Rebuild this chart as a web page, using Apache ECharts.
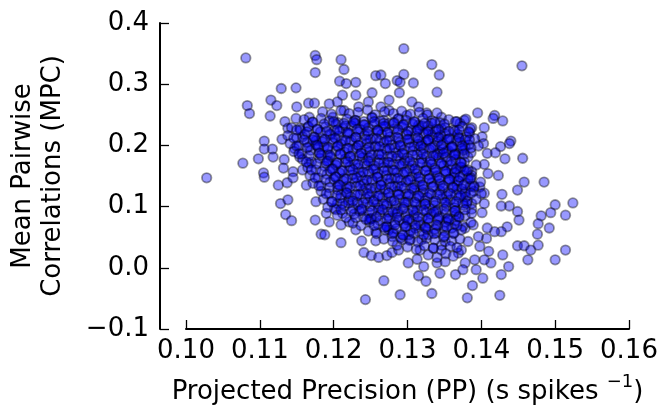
<!DOCTYPE html>
<html><head><meta charset="utf-8">
<script src="https://cdn.jsdelivr.net/npm/echarts@6/dist/echarts.min.js"></script>
<style>html,body{margin:0;padding:0;background:#fff}#c{width:661px;height:410px}</style>
</head><body><div id="c"></div>
<script>
const xTicks = [0.10, 0.11, 0.12, 0.13, 0.14, 0.15, 0.16];
const yTicks = [-0.1, 0.0, 0.1, 0.2, 0.3, 0.4];
const xTitle = 'Projected Precision (PP) (s spikes ';
const xTitleSup = '\u22121';
const yTitle = ['Mean Pairwise', 'Correlations (MPC)'];

// sparse points around the cloud
const outerPoints = [
[0.1081,0.343],[0.1175,0.347],[0.1177,0.340],[0.1175,0.319],[0.1129,0.293],[0.1149,0.294],[0.1115,0.274],[0.1123,0.265],
[0.1083,0.265],[0.1086,0.252],[0.1114,0.248],[0.1150,0.263],[0.1166,0.269],[0.1174,0.269],[0.1106,0.207],[0.1130,0.210],
[0.1106,0.194],[0.1117,0.194],[0.1118,0.181],[0.1098,0.178],[0.1077,0.171],[0.1133,0.177],[0.1028,0.147],[0.1134,0.239],
[0.1138,0.228],[0.1149,0.244],[0.1154,0.228],[0.1167,0.246],[0.1165,0.230],[0.1147,0.195],[0.1154,0.181],[0.1167,0.198],
[0.1176,0.208],[0.1158,0.214],[0.1145,0.157],[0.1158,0.160],[0.1105,0.155],[0.1132,0.163],[0.1167,0.171],
[0.1295,0.358],[0.1210,0.340],[0.1214,0.324],[0.1333,0.332],[0.1343,0.315],[0.1257,0.314],[0.1264,0.315],[0.1295,0.316],
[0.1270,0.301],[0.1230,0.303],[0.1208,0.305],[0.1217,0.301],[0.1286,0.306],[0.1290,0.303],[0.1308,0.302],[0.1289,0.286],
[0.1340,0.287],[0.1252,0.286],[0.1212,0.282],[0.1230,0.282],[0.1275,0.274],[0.1306,0.271],[0.1315,0.263],[0.1326,0.253],
[0.1346,0.246],[0.1247,0.271],[0.1264,0.263],[0.1205,0.271],[0.1194,0.268],[0.1234,0.263],[0.1214,0.257],[0.1275,0.257],
[0.1299,0.249],[0.1315,0.233],[0.1328,0.225],[0.1346,0.228],[0.1268,0.241],[0.1252,0.246],[0.1230,0.241],[0.1199,0.246],
[0.1288,0.244],[0.1333,0.217],[0.1346,0.211],[0.1319,0.203],[0.1355,0.192],[0.1344,0.189],
[0.1455,0.330],[0.1395,0.253],[0.1418,0.249],[0.1416,0.244],[0.1429,0.240],[0.1377,0.241],[0.1371,0.236],[0.1387,0.229],
[0.1404,0.229],[0.1384,0.220],[0.1401,0.214],[0.1403,0.203],[0.1396,0.199],[0.1440,0.207],[0.1438,0.203],[0.1426,0.198],
[0.1408,0.187],[0.1419,0.188],[0.1432,0.178],[0.1456,0.179],[0.1404,0.169],[0.1423,0.151],[0.1409,0.154],[0.1369,0.214],
[0.1378,0.198],[0.1369,0.187],[0.1382,0.181],[0.1393,0.168],[0.1373,0.165],[0.1387,0.157],[0.1364,0.157],
[0.1106,0.148],[0.1125,0.135],[0.1137,0.139],[0.1128,0.105],[0.1138,0.111],[0.1135,0.087],[0.1143,0.077],[0.1175,0.078],
[0.1183,0.055],[0.1163,0.135],[0.1176,0.108],[0.1145,0.147],
[0.1194,0.075],[0.1188,0.054],[0.1210,0.041],[0.1238,0.044],[0.1257,0.044],[0.1241,0.025],[0.1251,0.020],[0.1261,0.017],
[0.1272,0.020],[0.1279,0.025],[0.1288,0.029],[0.1286,0.037],[0.1301,0.008],[0.1313,0.014],[0.1322,0.002],[0.1315,-0.013],
[0.1325,-0.022],[0.1268,-0.021],[0.1290,-0.044],[0.1243,-0.052],[0.1333,-0.042],[0.1340,0.008],[0.1344,-0.009],[0.1351,0.010],
[0.1335,0.032],[0.1346,0.037],[0.1317,0.029],[0.1304,0.046],[0.1319,0.046],[0.1293,0.046],[0.1279,0.051],[0.1257,0.059],
[0.1230,0.062],[0.1212,0.089],[0.1201,0.097],[0.1205,0.105],[0.1248,0.078],[0.1221,0.075],[0.1275,0.062],[0.1302,0.054],
[0.1328,0.054],[0.1351,0.043],[0.1210,0.070],[0.1190,0.089],
[0.1458,0.140],[0.1485,0.140],[0.1449,0.127],[0.1428,0.120],[0.1524,0.106],[0.1500,0.103],[0.1514,0.086],[0.1494,0.090],
[0.1481,0.085],[0.1449,0.092],[0.1451,0.078],[0.1438,0.101],[0.1427,0.101],[0.1401,0.090],[0.1477,0.072],[0.1492,0.065],
[0.1476,0.055],[0.1435,0.067],[0.1427,0.059],[0.1418,0.059],[0.1408,0.065],[0.1407,0.048],[0.1449,0.036],[0.1458,0.036],
[0.1467,0.029],[0.1477,0.037],[0.1514,0.029],[0.1463,0.013],[0.1500,0.013],[0.1429,0.021],[0.1437,0.002],[0.1427,-0.011],
[0.1410,0.027],[0.1398,0.035],[0.1413,0.008],[0.1402,-0.017],[0.1388,-0.029],[0.1381,-0.049],[0.1425,-0.045],[0.1365,-0.011],
[0.1369,0.024],[0.1378,0.008],[0.1391,0.013],[0.1404,0.013],[0.1393,-0.003],[0.1375,-0.003],[0.1382,0.043],[0.1373,0.029],
[0.1396,0.051],[0.1378,0.065],[0.1389,0.070],[0.1369,0.084],[0.1387,0.105],[0.1404,0.105],[0.1404,0.122],[0.1398,0.132],
[0.1378,0.124],[0.1369,0.143],[0.1387,0.151]
];

// dense core of the cloud
const corePoints = [
[0.1185,0.255],[0.1197,0.251],[0.1210,0.257],[0.1221,0.252],[0.1233,0.254],[0.1246,0.258],[0.1256,0.250],[0.1269,0.255],[0.1281,0.252],[0.1292,0.256],[0.1304,0.251],[0.1316,0.254],[0.1327,0.250],[0.1340,0.253],
[0.1160,0.242],[0.1171,0.238],[0.1183,0.244],[0.1194,0.240],[0.1206,0.237],[0.1218,0.243],[0.1229,0.241],[0.1241,0.239],[0.1252,0.245],[0.1263,0.240],[0.1275,0.236],[0.1287,0.243],[0.1298,0.241],[0.1310,0.238],[0.1321,0.244],[0.1333,0.240],[0.1344,0.237],[0.1356,0.242],[0.1367,0.239],[0.1379,0.243],
[0.1143,0.229],[0.1155,0.225],[0.1166,0.231],[0.1178,0.227],[0.1189,0.230],[0.1201,0.224],[0.1212,0.228],[0.1224,0.232],[0.1236,0.226],[0.1247,0.229],[0.1259,0.225],[0.1270,0.231],[0.1282,0.227],[0.1293,0.230],[0.1305,0.224],[0.1316,0.228],[0.1328,0.232],[0.1339,0.226],[0.1351,0.229],[0.1362,0.225],[0.1374,0.231],[0.1385,0.227],
[0.1138,0.216],[0.1150,0.212],[0.1161,0.218],[0.1173,0.214],[0.1184,0.211],[0.1196,0.217],[0.1207,0.215],[0.1219,0.219],[0.1230,0.213],[0.1242,0.216],[0.1253,0.212],[0.1265,0.218],[0.1276,0.214],[0.1288,0.211],[0.1299,0.217],[0.1311,0.215],[0.1322,0.219],[0.1334,0.213],[0.1345,0.216],[0.1357,0.212],[0.1368,0.218],[0.1380,0.214],[0.1391,0.211],
[0.1141,0.203],[0.1153,0.199],[0.1164,0.205],[0.1176,0.201],[0.1187,0.198],[0.1199,0.204],[0.1210,0.202],[0.1222,0.206],[0.1233,0.200],[0.1245,0.203],[0.1256,0.199],[0.1268,0.205],[0.1279,0.201],[0.1291,0.198],[0.1302,0.204],[0.1314,0.202],[0.1325,0.206],[0.1337,0.200],[0.1348,0.203],[0.1360,0.199],[0.1371,0.205],[0.1383,0.201],
[0.1146,0.190],[0.1157,0.186],[0.1169,0.192],[0.1180,0.188],[0.1192,0.185],[0.1203,0.191],[0.1215,0.189],[0.1226,0.193],[0.1238,0.187],[0.1249,0.190],[0.1261,0.186],[0.1272,0.192],[0.1284,0.188],[0.1295,0.185],[0.1307,0.191],[0.1318,0.189],[0.1330,0.193],[0.1341,0.187],[0.1353,0.190],[0.1364,0.186],[0.1376,0.192],[0.1386,0.188],
[0.1158,0.177],[0.1170,0.173],[0.1181,0.179],[0.1193,0.175],[0.1204,0.172],[0.1216,0.178],[0.1227,0.176],[0.1239,0.180],[0.1250,0.174],[0.1262,0.177],[0.1273,0.173],[0.1285,0.179],[0.1296,0.175],[0.1308,0.172],[0.1319,0.178],[0.1331,0.176],[0.1342,0.180],[0.1354,0.174],[0.1365,0.177],[0.1377,0.173],
[0.1165,0.164],[0.1176,0.160],[0.1188,0.166],[0.1199,0.162],[0.1211,0.159],[0.1222,0.165],[0.1234,0.163],[0.1245,0.167],[0.1257,0.161],[0.1268,0.164],[0.1280,0.160],[0.1291,0.166],[0.1303,0.162],[0.1314,0.159],[0.1326,0.165],[0.1337,0.163],[0.1349,0.167],[0.1360,0.161],[0.1372,0.164],[0.1382,0.160],
[0.1168,0.151],[0.1179,0.147],[0.1191,0.153],[0.1202,0.149],[0.1214,0.146],[0.1225,0.152],[0.1237,0.150],[0.1248,0.154],[0.1260,0.148],[0.1271,0.151],[0.1283,0.147],[0.1294,0.153],[0.1306,0.149],[0.1317,0.146],[0.1329,0.152],[0.1340,0.150],[0.1352,0.154],[0.1363,0.148],[0.1375,0.151],[0.1386,0.147],
[0.1172,0.138],[0.1183,0.134],[0.1195,0.140],[0.1206,0.136],[0.1218,0.133],[0.1229,0.139],[0.1241,0.137],[0.1252,0.141],[0.1264,0.135],[0.1275,0.138],[0.1287,0.134],[0.1298,0.140],[0.1310,0.136],[0.1321,0.133],[0.1333,0.139],[0.1344,0.137],[0.1356,0.141],[0.1367,0.135],[0.1379,0.138],[0.1390,0.134],[0.1399,0.140],
[0.1183,0.125],[0.1194,0.121],[0.1206,0.127],[0.1217,0.123],[0.1229,0.120],[0.1240,0.126],[0.1252,0.124],[0.1263,0.128],[0.1275,0.122],[0.1286,0.125],[0.1298,0.121],[0.1309,0.127],[0.1321,0.123],[0.1332,0.120],[0.1344,0.126],[0.1355,0.124],[0.1367,0.128],[0.1378,0.122],[0.1390,0.125],[0.1400,0.121],
[0.1186,0.112],[0.1197,0.108],[0.1209,0.114],[0.1220,0.110],[0.1232,0.107],[0.1243,0.113],[0.1255,0.111],[0.1266,0.115],[0.1278,0.109],[0.1289,0.112],[0.1301,0.108],[0.1312,0.114],[0.1324,0.110],[0.1335,0.107],[0.1347,0.113],[0.1358,0.111],[0.1370,0.115],[0.1381,0.109],[0.1393,0.112],
[0.1192,0.099],[0.1203,0.095],[0.1215,0.101],[0.1226,0.097],[0.1238,0.094],[0.1249,0.100],[0.1261,0.098],[0.1272,0.102],[0.1284,0.096],[0.1295,0.099],[0.1307,0.095],[0.1318,0.101],[0.1330,0.097],[0.1341,0.094],[0.1353,0.100],[0.1364,0.098],[0.1376,0.102],[0.1387,0.096],
[0.1205,0.086],[0.1217,0.082],[0.1228,0.088],[0.1240,0.084],[0.1251,0.081],[0.1263,0.087],[0.1274,0.085],[0.1286,0.089],[0.1297,0.083],[0.1309,0.086],[0.1320,0.082],[0.1332,0.088],[0.1343,0.084],[0.1355,0.081],[0.1366,0.087],[0.1378,0.085],[0.1387,0.089],
[0.1226,0.073],[0.1237,0.069],[0.1249,0.075],[0.1260,0.071],[0.1272,0.068],[0.1283,0.074],[0.1295,0.072],[0.1306,0.076],[0.1318,0.070],[0.1329,0.073],[0.1341,0.069],[0.1352,0.075],[0.1364,0.071],[0.1375,0.068],[0.1386,0.074],
[0.1247,0.060],[0.1258,0.056],[0.1270,0.062],[0.1281,0.058],[0.1293,0.055],[0.1304,0.061],[0.1316,0.059],[0.1327,0.063],[0.1339,0.057],[0.1350,0.060],[0.1362,0.056],[0.1373,0.062],
[0.1268,0.047],[0.1280,0.043],[0.1291,0.049],[0.1303,0.045],[0.1314,0.042],[0.1326,0.048],[0.1337,0.046],[0.1349,0.050],[0.1360,0.044],[0.1371,0.047],
[0.1300,0.034],[0.1312,0.030],[0.1323,0.036],[0.1335,0.032],[0.1346,0.029],[0.1358,0.035],[0.1367,0.033],
[0.1328,0.021],[0.1340,0.017],[0.1352,0.023],[0.1362,0.019]
];

// second, overlapping layer in the darkest middle
const innerPoints = [
[0.1203,0.235],[0.1216,0.232],[0.1229,0.236],[0.1242,0.233],[0.1255,0.234],[0.1268,0.231],[0.1281,0.236],[0.1294,0.233],[0.1307,0.235],[0.1320,0.232],[0.1333,0.236],
[0.1182,0.222],[0.1195,0.219],[0.1208,0.223],[0.1221,0.220],[0.1234,0.222],[0.1247,0.218],[0.1260,0.223],[0.1273,0.220],[0.1286,0.221],[0.1299,0.218],[0.1312,0.223],[0.1325,0.220],[0.1338,0.222],[0.1351,0.219],[0.1364,0.223],
[0.1172,0.209],[0.1185,0.206],[0.1198,0.210],[0.1211,0.207],[0.1224,0.209],[0.1237,0.205],[0.1250,0.210],[0.1263,0.207],[0.1276,0.208],[0.1289,0.205],[0.1302,0.210],[0.1315,0.207],[0.1328,0.209],[0.1341,0.206],[0.1354,0.210],[0.1367,0.207],[0.1378,0.209],
[0.1179,0.197],[0.1192,0.194],[0.1205,0.198],[0.1218,0.195],[0.1231,0.196],[0.1244,0.193],[0.1257,0.198],[0.1270,0.195],[0.1283,0.196],[0.1296,0.193],[0.1309,0.198],[0.1322,0.195],[0.1335,0.197],[0.1348,0.194],[0.1361,0.198],[0.1374,0.195],
[0.1183,0.184],[0.1196,0.181],[0.1209,0.185],[0.1222,0.182],[0.1235,0.183],[0.1248,0.180],[0.1261,0.185],[0.1274,0.182],[0.1287,0.183],[0.1300,0.180],[0.1313,0.185],[0.1326,0.182],[0.1339,0.184],[0.1352,0.181],[0.1365,0.185],
[0.1190,0.171],[0.1203,0.168],[0.1216,0.172],[0.1229,0.169],[0.1242,0.170],[0.1255,0.167],[0.1268,0.172],[0.1281,0.169],[0.1294,0.170],[0.1307,0.167],[0.1320,0.172],[0.1333,0.169],[0.1346,0.171],[0.1359,0.168],[0.1372,0.172],
[0.1195,0.158],[0.1208,0.155],[0.1221,0.159],[0.1234,0.156],[0.1247,0.157],[0.1260,0.154],[0.1273,0.159],[0.1286,0.156],[0.1299,0.157],[0.1312,0.154],[0.1325,0.159],[0.1338,0.156],[0.1351,0.158],[0.1364,0.155],[0.1377,0.159],
[0.1200,0.145],[0.1213,0.142],[0.1226,0.146],[0.1239,0.143],[0.1252,0.144],[0.1265,0.141],[0.1278,0.146],[0.1291,0.143],[0.1304,0.144],[0.1317,0.141],[0.1330,0.146],[0.1343,0.143],[0.1356,0.145],[0.1369,0.142],[0.1382,0.146],
[0.1205,0.132],[0.1218,0.129],[0.1231,0.133],[0.1244,0.130],[0.1257,0.131],[0.1270,0.128],[0.1283,0.133],[0.1296,0.130],[0.1309,0.131],[0.1322,0.128],[0.1335,0.133],[0.1348,0.130],[0.1361,0.132],[0.1374,0.129],[0.1385,0.133],
[0.1210,0.119],[0.1223,0.116],[0.1236,0.120],[0.1249,0.117],[0.1262,0.118],[0.1275,0.115],[0.1288,0.120],[0.1301,0.117],[0.1314,0.118],[0.1327,0.115],[0.1340,0.120],[0.1353,0.117],[0.1366,0.119],[0.1379,0.116],
[0.1220,0.106],[0.1233,0.103],[0.1246,0.107],[0.1259,0.104],[0.1272,0.105],[0.1285,0.102],[0.1298,0.107],[0.1311,0.104],[0.1324,0.105],[0.1337,0.102],[0.1350,0.107],[0.1363,0.104],[0.1375,0.106],
[0.1235,0.093],[0.1248,0.090],[0.1261,0.094],[0.1274,0.091],[0.1287,0.092],[0.1300,0.089],[0.1313,0.094],[0.1326,0.091],[0.1339,0.092],[0.1352,0.089],[0.1365,0.093],
[0.1250,0.080],[0.1263,0.077],[0.1276,0.081],[0.1289,0.078],[0.1302,0.079],[0.1315,0.076],[0.1328,0.081],[0.1341,0.078],[0.1354,0.080],[0.1365,0.077],
[0.1272,0.067],[0.1285,0.064],[0.1298,0.068],[0.1311,0.065],[0.1324,0.066],[0.1337,0.063],[0.1350,0.068],[0.1360,0.065]
];

// third overlapping layer across the core
const midPoints = [
[0.1172,0.238],[0.1187,0.235],[0.1200,0.239],[0.1214,0.236],[0.1227,0.238],[0.1241,0.234],[0.1255,0.239],[0.1268,0.236],[0.1282,0.237],[0.1295,0.234],[0.1309,0.239],[0.1323,0.236],[0.1337,0.238],[0.1350,0.235],[0.1365,0.239],
[0.1150,0.225],[0.1164,0.222],[0.1178,0.226],[0.1191,0.223],[0.1205,0.225],[0.1219,0.221],[0.1232,0.226],[0.1246,0.223],[0.1260,0.224],[0.1273,0.221],[0.1287,0.226],[0.1301,0.223],[0.1314,0.225],[0.1328,0.222],[0.1342,0.226],[0.1356,0.223],[0.1370,0.225],[0.1383,0.222],
[0.1146,0.212],[0.1160,0.209],[0.1174,0.213],[0.1188,0.210],[0.1202,0.212],[0.1216,0.208],[0.1230,0.213],[0.1244,0.210],[0.1258,0.211],[0.1272,0.208],[0.1286,0.213],[0.1300,0.210],[0.1314,0.212],[0.1328,0.209],[0.1342,0.213],[0.1356,0.210],[0.1370,0.212],[0.1384,0.209],
[0.1150,0.199],[0.1164,0.196],[0.1178,0.200],[0.1192,0.197],[0.1206,0.199],[0.1220,0.195],[0.1234,0.200],[0.1248,0.197],[0.1262,0.198],[0.1276,0.195],[0.1290,0.200],[0.1304,0.197],[0.1318,0.199],[0.1332,0.196],[0.1346,0.200],[0.1360,0.197],[0.1374,0.199],[0.1386,0.196],
[0.1153,0.186],[0.1167,0.183],[0.1181,0.187],[0.1195,0.184],[0.1209,0.186],[0.1223,0.182],[0.1237,0.187],[0.1251,0.184],[0.1265,0.185],[0.1279,0.182],[0.1293,0.187],[0.1307,0.184],[0.1321,0.186],[0.1335,0.183],[0.1349,0.187],[0.1363,0.184],[0.1377,0.186],
[0.1163,0.173],[0.1177,0.170],[0.1191,0.174],[0.1205,0.171],[0.1219,0.173],[0.1233,0.169],[0.1247,0.174],[0.1261,0.171],[0.1275,0.172],[0.1289,0.169],[0.1303,0.174],[0.1317,0.171],[0.1331,0.173],[0.1345,0.170],[0.1359,0.174],[0.1373,0.171],
[0.1170,0.160],[0.1184,0.157],[0.1198,0.161],[0.1212,0.158],[0.1226,0.160],[0.1240,0.156],[0.1254,0.161],[0.1268,0.158],[0.1282,0.159],[0.1296,0.156],[0.1310,0.161],[0.1324,0.158],[0.1338,0.160],[0.1352,0.157],[0.1366,0.161],[0.1380,0.158],
[0.1175,0.147],[0.1189,0.144],[0.1203,0.148],[0.1217,0.145],[0.1231,0.147],[0.1245,0.143],[0.1259,0.148],[0.1273,0.145],[0.1287,0.146],[0.1301,0.143],[0.1315,0.148],[0.1329,0.145],[0.1343,0.147],[0.1357,0.144],[0.1371,0.148],[0.1385,0.145],
[0.1180,0.134],[0.1194,0.131],[0.1208,0.135],[0.1222,0.132],[0.1236,0.134],[0.1250,0.130],[0.1264,0.135],[0.1278,0.132],[0.1292,0.133],[0.1306,0.130],[0.1320,0.135],[0.1334,0.132],[0.1348,0.134],[0.1362,0.131],[0.1376,0.135],[0.1390,0.132],
[0.1190,0.121],[0.1204,0.118],[0.1218,0.122],[0.1232,0.119],[0.1246,0.121],[0.1260,0.117],[0.1274,0.122],[0.1288,0.119],[0.1302,0.120],[0.1316,0.117],[0.1330,0.122],[0.1344,0.119],[0.1358,0.121],[0.1372,0.118],[0.1386,0.122],
[0.1198,0.108],[0.1212,0.105],[0.1226,0.109],[0.1240,0.106],[0.1254,0.108],[0.1268,0.104],[0.1282,0.109],[0.1296,0.106],[0.1310,0.107],[0.1324,0.104],[0.1338,0.109],[0.1352,0.106],[0.1366,0.108],[0.1380,0.105],
[0.1210,0.095],[0.1224,0.092],[0.1238,0.096],[0.1252,0.093],[0.1266,0.095],[0.1280,0.091],[0.1294,0.096],[0.1308,0.093],[0.1322,0.094],[0.1336,0.091],[0.1350,0.096],[0.1364,0.093],[0.1378,0.095],
[0.1230,0.082],[0.1244,0.079],[0.1258,0.083],[0.1272,0.080],[0.1286,0.082],[0.1300,0.078],[0.1314,0.083],[0.1328,0.080],[0.1342,0.081],[0.1356,0.078],[0.1370,0.083],
[0.1255,0.069],[0.1269,0.066],[0.1283,0.070],[0.1297,0.067],[0.1311,0.069],[0.1325,0.065],[0.1339,0.070],[0.1353,0.067],[0.1367,0.069],
[0.1280,0.056],[0.1294,0.053],[0.1308,0.057],[0.1322,0.054],[0.1336,0.056],[0.1350,0.052],[0.1363,0.057]
];

const FONT = 'DejaVu Sans';
const FS = 26;
const chart = echarts.init(document.getElementById('c'), null, {renderer: 'canvas'});
const markStyle = {color: 'rgba(0,0,255,0.5)', borderColor: 'rgba(0,0,0,0.5)', borderWidth: 1.8};
const MS = 9.5;
function fmtY(v){ if (Math.abs(v) < 1e-9) return '0.0'; return (v < 0 ? '\u2212' : '') + Math.abs(v).toFixed(1); }
function sc(d){ return {type: 'scatter', data: d, symbol: 'circle', symbolSize: MS, itemStyle: markStyle, silent: true}; }
chart.setOption({
  animation: false,
  backgroundColor: '#fff',
  textStyle: {fontFamily: FONT},
  grid: {left: 182, right: 32, top: 23, bottom: 80, containLabel: false},
  xAxis: {
    type: 'value', min: xTicks[0], max: xTicks[xTicks.length-1], interval: 0.01,
    axisLine: {show: true, onZero: false, lineStyle: {color: '#000', width: 2}},
    axisTick: {show: true, inside: true, length: 9, lineStyle: {color: '#000', width: 1.3}},
    axisLabel: {color: '#000', fontSize: FS, fontFamily: FONT, margin: 9, formatter: v => v.toFixed(2)},
    splitLine: {show: false},
    name: '{a|' + xTitle + '}{s|' + xTitleSup + '}{a|)}',
    nameLocation: 'middle', nameGap: 44,
    nameTextStyle: {
      color: '#000', fontFamily: FONT, fontSize: FS,
      rich: {
        a: {fontSize: FS, fontFamily: FONT, color: '#000', lineHeight: 32, verticalAlign: 'bottom'},
        s: {fontSize: 18, fontFamily: FONT, color: '#000', lineHeight: 32, verticalAlign: 'top'}
      }
    }
  },
  yAxis: {
    type: 'value', min: yTicks[0], max: yTicks[yTicks.length-1], interval: 0.1,
    offset: 26,
    axisLine: {show: true, onZero: false, lineStyle: {color: '#000', width: 2}},
    axisTick: {show: true, inside: true, length: 9, lineStyle: {color: '#000', width: 1.3}},
    axisLabel: {color: '#000', fontSize: FS, fontFamily: FONT, margin: 11, formatter: fmtY},
    splitLine: {show: false},
    name: yTitle.join('\n'),
    nameLocation: 'middle', nameGap: 92, nameRotate: 90,
    nameTextStyle: {color: '#000', fontFamily: FONT, fontSize: FS, lineHeight: 30, align: 'center'}
  },
  series: [sc(outerPoints), sc(corePoints), sc(innerPoints), sc(midPoints)]
});
</script>
</body></html>
